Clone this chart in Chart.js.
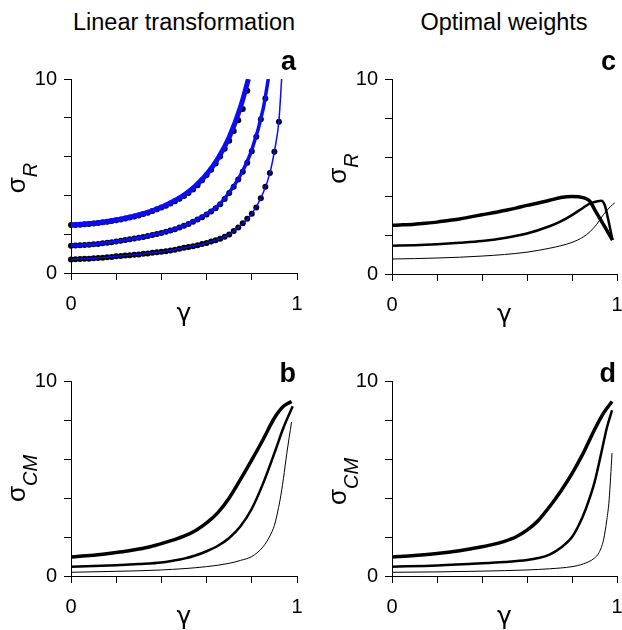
<!DOCTYPE html>
<html>
<head>
<meta charset="utf-8">
<script src="https://cdn.jsdelivr.net/npm/chart.js@4.4.1/dist/chart.umd.min.js"></script>
<style>
  body { margin: 0; background: #fff; }
  #wrap { position: relative; width: 622px; height: 630px; font-family: "Liberation Sans", Arial, sans-serif; }
  #wrap canvas { position: absolute; left: 0; top: 0; }
  .head { position: absolute; top: 9px; font-size: 23.5px; color: #000; transform: translateX(-50%); white-space: nowrap; }
</style>
</head>
<body>
<div id="wrap">
  <div class="head" style="left:184px">Linear transformation</div>
  <div class="head" style="left:504px">Optimal weights</div>
  <canvas id="pa" width="622" height="630"></canvas>
  <canvas id="pb" width="622" height="630"></canvas>
  <canvas id="pc" width="622" height="630"></canvas>
  <canvas id="pd" width="622" height="630"></canvas>
</div>
<script>
// ---- data ----

// panel a: simulated points, gamma every 0.02
var dotGamma = [0,0.02,0.04,0.06,0.08,0.10,0.12,0.14,0.16,0.18,0.20,0.22,0.24,0.26,0.28,0.30,0.32,0.34,0.36,0.38,
  0.40,0.42,0.44,0.46,0.48,0.50,0.52,0.54,0.56,0.58,0.60,0.62,0.64,0.66,0.68,0.70,0.72,0.74,0.76,0.78,
  0.80,0.82,0.84,0.86,0.88,0.90,0.92];
var aDotsHigh = [2.47,2.48,2.49,2.51,2.53,2.55,2.58,2.61,2.64,2.68,
  2.72,2.76,2.81,2.86,2.91,2.97,3.04,3.11,3.19,3.28,
  3.37,3.47,3.58,3.70,3.83,3.97,4.13,4.30,4.52,4.78,
  5.05,5.32,5.65,6.01,6.40,6.82,7.32,7.88,8.45,9.40];
var aDotsMid = [1.41,1.42,1.43,1.44,1.46,1.48,1.50,1.53,1.56,1.59,
  1.63,1.66,1.70,1.74,1.78,1.82,1.86,1.91,1.96,2.01,
  2.06,2.12,2.19,2.26,2.34,2.43,2.53,2.64,2.76,2.88,
  3.02,3.17,3.34,3.55,3.82,4.12,4.44,4.82,5.22,5.68,
  6.28,7.02,7.92,9.00];
var aDotsLow = [0.70,0.71,0.72,0.73,0.74,0.76,0.77,0.79,0.81,0.83,
  0.86,0.88,0.90,0.92,0.94,0.96,0.99,1.01,1.04,1.07,
  1.09,1.12,1.16,1.20,1.25,1.30,1.34,1.38,1.43,1.49,
  1.55,1.62,1.69,1.77,1.87,1.99,2.16,2.35,2.56,2.80,
  3.05,3.38,3.85,4.45,5.15,6.25,7.80];

// panel a: theory curves (blue)
var aHighX = [0,0.05,0.1,0.15,0.2,0.25,0.3,0.35,0.4,0.45,0.5,0.55,0.6,0.65,0.7,0.75,0.785];
var aHighY = [2.48,2.51,2.56,2.63,2.73,2.85,2.99,3.17,3.39,3.67,4.02,4.48,5.08,5.90,7.00,8.55,10];
var aMidX = [0,0.05,0.1,0.15,0.2,0.25,0.3,0.35,0.4,0.45,0.5,0.55,0.6,0.65,0.7,0.75,0.8,0.85,0.873];
var aMidY = [1.42,1.44,1.48,1.55,1.63,1.72,1.82,1.94,2.07,2.23,2.44,2.71,3.04,3.46,4.15,5.05,6.35,8.45,10];
var aLowX = [0,0.1,0.2,0.3,0.4,0.5,0.6,0.65,0.7,0.75,0.8,0.85,0.88,0.9,0.92,0.932];
var aLowY = [0.70,0.76,0.86,0.96,1.09,1.30,1.55,1.73,1.99,2.45,3.05,4.12,5.15,6.28,7.85,10];

// panel b: sigma_CM, linear transformation
var bThickX = [0,0.05,0.1,0.15,0.2,0.25,0.3,0.35,0.4,0.45,0.5,0.55,0.6,0.65,0.7,0.75,0.8,0.85,0.9,0.94,0.976];
var bThickY = [0.98,1.02,1.07,1.13,1.20,1.28,1.38,1.50,1.66,1.84,2.04,2.32,2.72,3.25,4.00,4.95,5.95,7.00,8.10,8.70,8.95];
var bMidX = [0,0.1,0.2,0.3,0.4,0.45,0.5,0.55,0.6,0.65,0.7,0.75,0.8,0.85,0.9,0.94,0.981];
var bMidY = [0.48,0.51,0.55,0.61,0.69,0.78,0.89,1.05,1.27,1.55,1.95,2.55,3.45,4.75,6.30,7.60,8.70];
var bThinX = [0,0.2,0.4,0.6,0.7,0.75,0.8,0.85,0.88,0.9,0.925,0.94,0.955,0.976];
var bThinY = [0.19,0.24,0.31,0.48,0.65,0.80,1.00,1.50,2.05,2.60,3.90,5.00,6.30,7.90];

// panel c: sigma_R, optimal weights
var cThickX = [0,0.05,0.1,0.15,0.2,0.25,0.3,0.35,0.4,0.45,0.5,0.55,0.6,0.65,0.7,0.75,0.8,0.83,0.86,0.88,0.9,0.94,0.98];
var cThickY = [2.50,2.52,2.55,2.60,2.66,2.74,2.82,2.93,3.04,3.14,3.26,3.38,3.52,3.64,3.78,3.92,3.98,3.96,3.88,3.72,3.32,2.53,1.74];
var cMidX = [0,0.1,0.2,0.3,0.4,0.5,0.6,0.7,0.75,0.8,0.85,0.88,0.91,0.93,0.945,0.96,0.98];
var cMidY = [1.45,1.48,1.53,1.60,1.69,1.85,2.08,2.45,2.70,3.02,3.40,3.62,3.72,3.76,3.55,2.85,1.74];
var cThinX = [0,0.1,0.2,0.3,0.4,0.5,0.6,0.7,0.75,0.8,0.85,0.88,0.91,0.94,0.97,0.99];
var cThinY = [0.77,0.79,0.82,0.86,0.92,1.00,1.12,1.32,1.45,1.62,1.90,2.17,2.55,3.05,3.45,3.65];

// panel d: sigma_CM, optimal weights
var dThickX = [0,0.1,0.2,0.3,0.4,0.45,0.5,0.55,0.6,0.65,0.7,0.75,0.8,0.85,0.9,0.94,0.978];
var dThickY = [0.98,1.05,1.15,1.30,1.50,1.62,1.78,2.00,2.35,2.85,3.55,4.35,5.25,6.30,7.50,8.35,8.95];
var dMidX = [0,0.2,0.4,0.5,0.6,0.65,0.7,0.75,0.8,0.83,0.86,0.9,0.93,0.955,0.978];
var dMidY = [0.48,0.54,0.65,0.72,0.82,0.92,1.10,1.45,2.00,2.60,3.40,4.80,6.30,7.60,8.50];
var dThinX = [0,0.2,0.4,0.6,0.7,0.8,0.85,0.9,0.92,0.94,0.955,0.965,0.978];
var dThinY = [0.19,0.21,0.25,0.31,0.37,0.48,0.62,0.92,1.20,1.85,2.90,3.90,6.30];

// ---- drawing ----
var FAMILY = '"Liberation Sans", Arial, sans-serif';
var BLUE = 'rgb(12,12,240)';
var W = 622, H = 630, Y_W = 60, X_H = 45;

function pts(xs, ys) {
  return ys.map(function (y, i) { return { x: xs[i], y: y }; });
}
function curve(xs, ys, color, width) {
  return { data: pts(xs, ys), borderColor: color, borderWidth: width, pointRadius: 0, fill: false };
}
function dots(ys) {
  return { data: pts(dotGamma, ys), showLine: false, pointRadius: 3, pointBackgroundColor: '#000',
           pointBorderWidth: 0, clip: false };
}

// panel letter, gamma label and rotated sigma label with italic subscript
var panelText = {
  id: 'panelText',
  afterDraw: function (chart, args, o) {
    var ctx = chart.ctx, a = chart.chartArea;
    ctx.save();
    ctx.fillStyle = '#000';
    ctx.textBaseline = 'alphabetic';

    ctx.font = 'bold 27px ' + FAMILY;
    ctx.textAlign = 'right';
    ctx.fillText(o.letter, a.right - 1, a.top + o.letterDy);

    ctx.font = '25px "DejaVu Sans", sans-serif';
    ctx.textAlign = 'center';
    ctx.fillText('γ', (a.left + a.right) / 2, a.bottom + 48);

    var big = '26px ' + FAMILY, small = 'italic 20px ' + FAMILY;
    ctx.font = big;
    var w1 = ctx.measureText('σ').width;
    ctx.font = small;
    var w2 = ctx.measureText(o.sub).width;
    ctx.translate(a.left - 46, (a.top + a.bottom) / 2 + o.titleDy);
    ctx.rotate(-Math.PI / 2);
    ctx.textAlign = 'left';
    ctx.font = big;
    ctx.fillText('σ', -(w1 + w2) / 2, 0);
    ctx.font = small;
    ctx.fillText(o.sub, -(w1 + w2) / 2 + w1, 12);
    ctx.restore();
  }
};

function panel(id, box, datasets, text) {
  new Chart(document.getElementById(id), {
    type: 'line',
    data: { datasets: datasets },
    options: {
      responsive: false,
      animation: false,
      devicePixelRatio: 1,
      layout: { padding: { left: box.l - Y_W, right: W - box.r, top: box.t, bottom: H - box.b - X_H } },
      elements: { line: { cubicInterpolationMode: 'monotone' } },
      plugins: { legend: { display: false }, tooltip: { enabled: false }, panelText: text },
      scales: {
        x: {
          type: 'linear', min: 0, max: 1,
          afterFit: function (s) { s.height = X_H; s.paddingLeft = 0; s.paddingRight = 0; },
          border: { color: '#000', width: 1 },
          grid: { drawOnChartArea: false, color: '#000', tickLength: 7 },
          ticks: {
            stepSize: 0.2, autoSkip: false, maxRotation: 0, padding: 12, color: '#000',
            font: { family: FAMILY, size: 20 },
            callback: function (v) { return (v === 0 || v === 1) ? String(v) : ''; }
          }
        },
        y: {
          min: 0, max: 10,
          afterFit: function (s) { s.width = Y_W; s.paddingTop = 0; s.paddingBottom = 0; },
          border: { color: '#000', width: 1 },
          grid: { drawOnChartArea: false, color: '#000', tickLength: 7 },
          ticks: {
            stepSize: 2, autoSkip: false, padding: 7, color: '#000',
            font: { family: FAMILY, size: 20 },
            callback: function (v) { return (v === 0 || v === 10) ? String(v) : ''; }
          }
        }
      }
    },
    plugins: [panelText]
  });
}

panel('pa', { l: 71, r: 297, t: 79, b: 273 }, [
  curve(aHighX, aHighY, BLUE, 5),
  curve(aMidX, aMidY, BLUE, 3.5),
  curve(aLowX, aLowY, BLUE, 1.5),
  dots(aDotsHigh),
  dots(aDotsMid),
  dots(aDotsLow)
], { letter: 'a', letterDy: -9, sub: 'R', titleDy: 2 });

panel('pc', { l: 392, r: 617, t: 79, b: 274 }, [
  curve(cThickX, cThickY, '#000', 3.5),
  curve(cMidX, cMidY, '#000', 2.5),
  curve(cThinX, cThinY, '#000', 1)
], { letter: 'c', letterDy: -9, sub: 'R', titleDy: -8 });

panel('pb', { l: 71, r: 297, t: 381, b: 576 }, [
  curve(bThickX, bThickY, '#000', 3.5),
  curve(bMidX, bMidY, '#000', 2.5),
  curve(bThinX, bThinY, '#000', 1)
], { letter: 'b', letterDy: 1, sub: 'CM', titleDy: 0 });

panel('pd', { l: 392, r: 617, t: 381, b: 576 }, [
  curve(dThickX, dThickY, '#000', 3.5),
  curve(dMidX, dMidY, '#000', 2.5),
  curve(dThinX, dThinY, '#000', 1)
], { letter: 'd', letterDy: 1, sub: 'CM', titleDy: 3 });
</script>
</body>
</html>
